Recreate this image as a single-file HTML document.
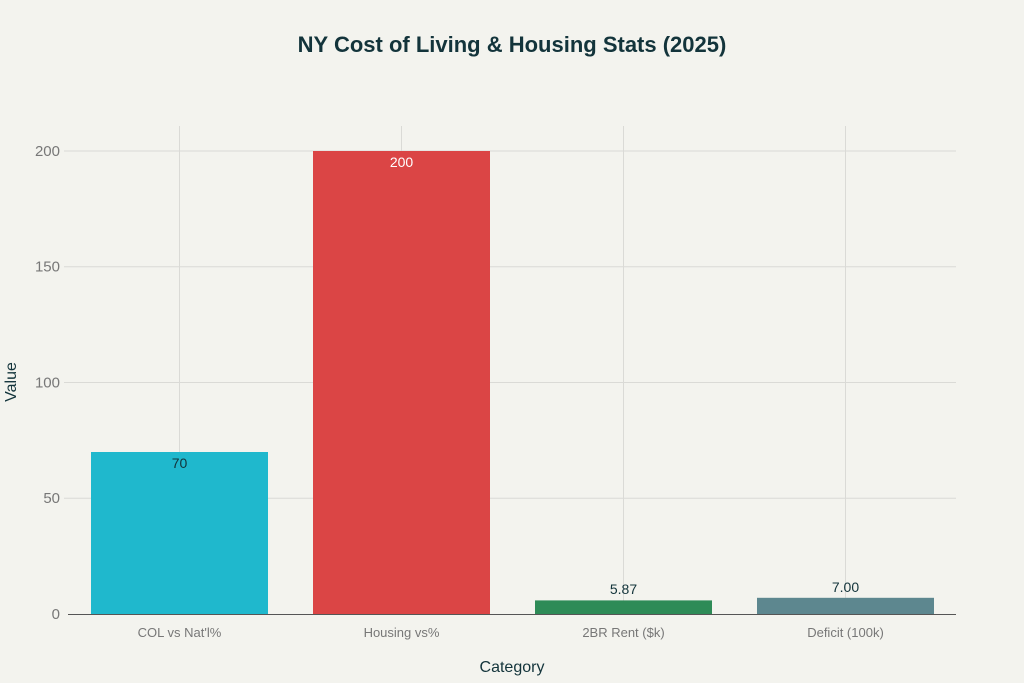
<!DOCTYPE html>
<html><head><meta charset="utf-8"><style>
html,body{margin:0;padding:0;background:#F3F3EE;}
svg{display:block;font-family:"Liberation Sans",sans-serif;}
</style></head><body>
<svg width="1024" height="683" viewBox="0 0 1024 683" xmlns="http://www.w3.org/2000/svg">
<rect width="1024" height="683" fill="#F3F3EE"/>
<text x="512" y="52" text-anchor="middle" font-size="22" font-weight="bold" fill="#13343B">NY Cost of Living &amp; Housing Stats (2025)</text>
<g stroke="#DADAD6" stroke-width="1">
<line x1="64" x2="956" y1="151" y2="151"/>
<line x1="64" x2="956" y1="266.7" y2="266.7"/>
<line x1="64" x2="956" y1="382.5" y2="382.5"/>
<line x1="64" x2="956" y1="498.2" y2="498.2"/>
<line x1="179.5" x2="179.5" y1="126" y2="614"/>
<line x1="401.5" x2="401.5" y1="126" y2="614"/>
<line x1="623.5" x2="623.5" y1="126" y2="614"/>
<line x1="845.5" x2="845.5" y1="126" y2="614"/>
</g>
<g font-size="15" fill="#777" text-anchor="end">
<text x="60" y="156">200</text>
<text x="60" y="271.7">150</text>
<text x="60" y="387.5">100</text>
<text x="60" y="503.2">50</text>
<text x="60" y="619">0</text>
</g>
<rect x="91" y="452" width="177" height="162" fill="#1FB8CD"/>
<rect x="313" y="151" width="177" height="463" fill="#DB4545"/>
<rect x="535" y="600.4" width="177" height="13.6" fill="#2E8B57"/>
<rect x="757" y="597.8" width="177" height="16.2" fill="#5D878F"/>
<line x1="68" x2="956" y1="614.5" y2="614.5" stroke="#555" stroke-width="1"/>
<g font-size="14" text-anchor="middle">
<text x="179.5" y="468" fill="#13343B">70</text>
<text x="401.5" y="167" fill="#FFFFFF">200</text>
<text x="623.5" y="594" fill="#13343B">5.87</text>
<text x="845.5" y="592" fill="#13343B">7.00</text>
</g>
<g font-size="13" fill="#777" text-anchor="middle">
<text x="179.5" y="637">COL vs Nat'l%</text>
<text x="401.5" y="637">Housing vs%</text>
<text x="623.5" y="637">2BR Rent ($k)</text>
<text x="845.5" y="637">Deficit (100k)</text>
</g>
<text x="512" y="672" text-anchor="middle" font-size="16" fill="#13343B">Category</text>
<text transform="translate(16,382) rotate(-90)" text-anchor="middle" font-size="16" fill="#13343B">Value</text>
</svg>
</body></html>
